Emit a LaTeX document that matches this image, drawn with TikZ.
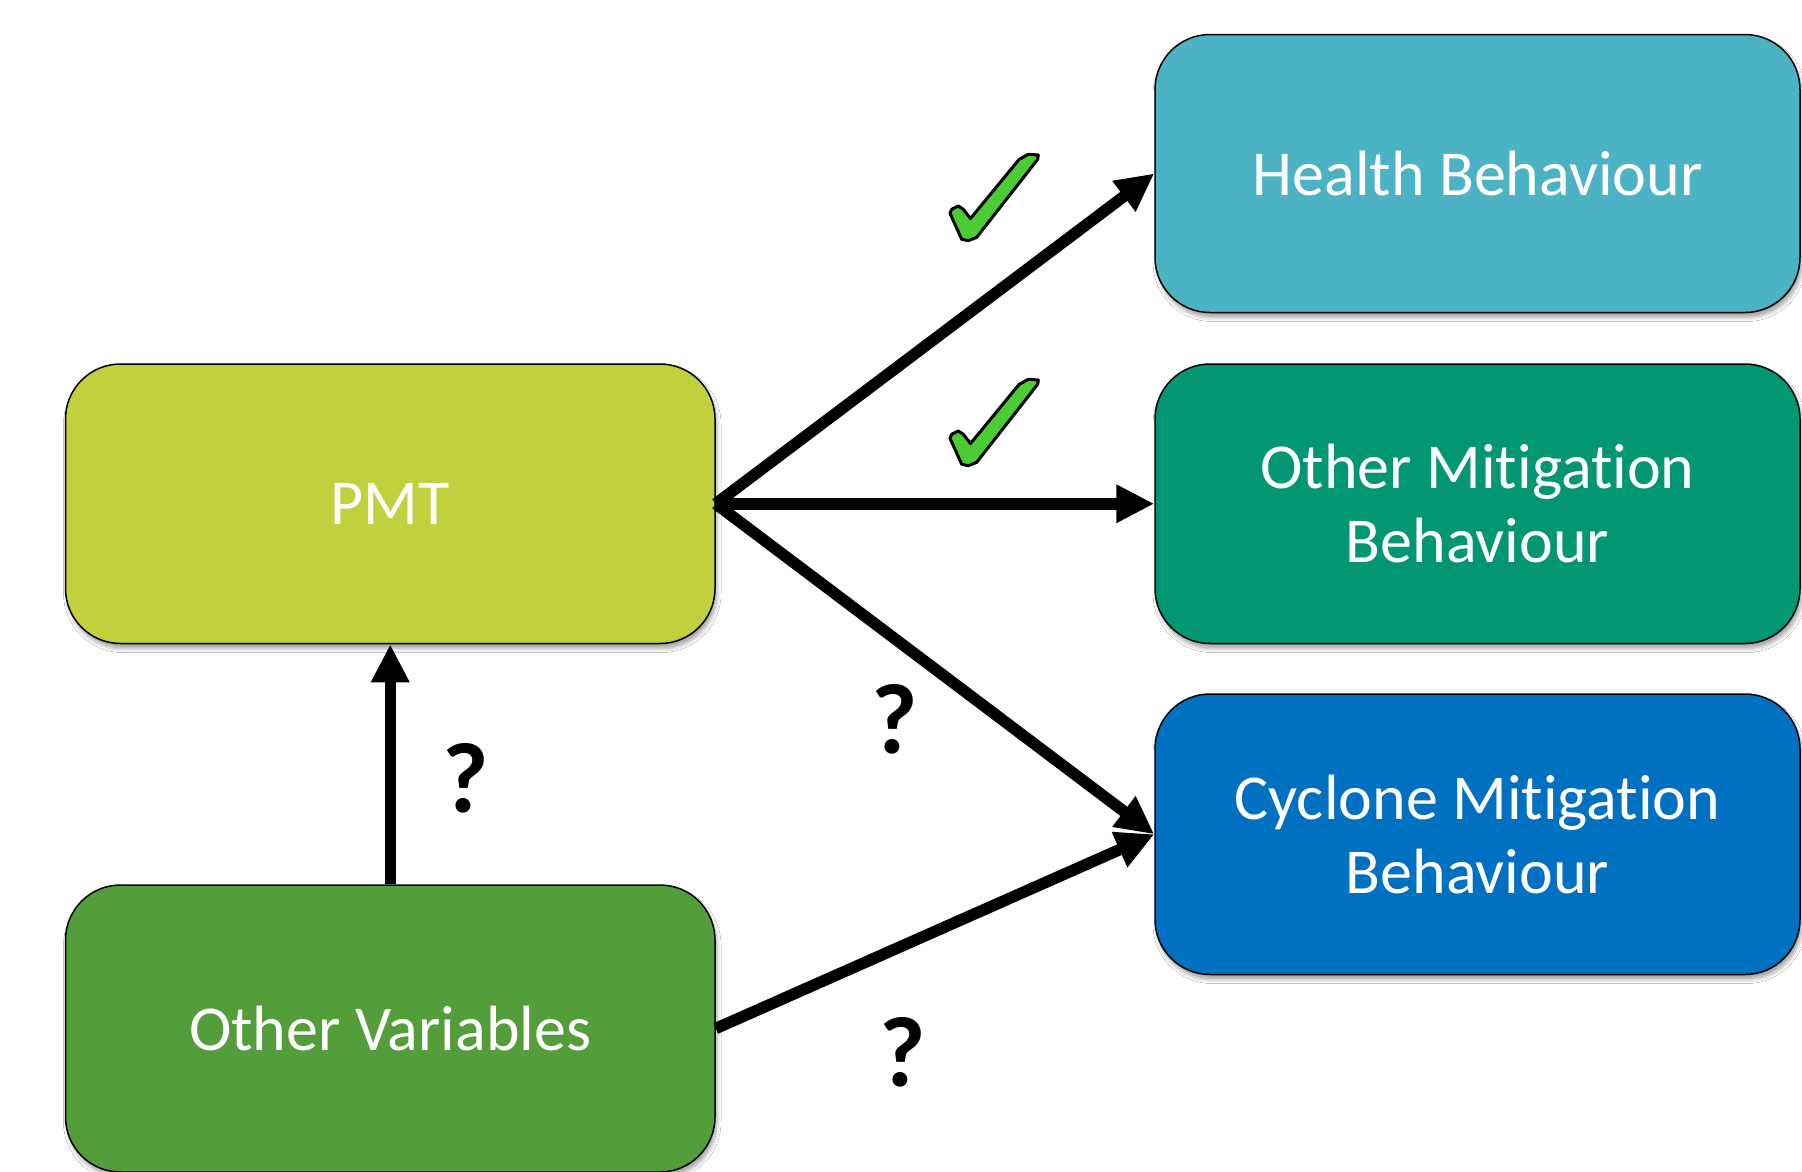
\documentclass[tikz,border=0pt]{standalone}
\usepackage{fontspec}
\setmainfont{Carlito}[Ligatures=NoCommon]
\usetikzlibrary{arrows.meta,shadows.blur}
\definecolor{healthc}{RGB}{75,179,196}
\definecolor{othmitc}{RGB}{3,150,114}
\definecolor{cyclc}{RGB}{0,112,192}
\definecolor{pmtc}{RGB}{193,208,61}
\definecolor{ovc}{RGB}{83,158,58}
\definecolor{tickc}{RGB}{76,204,52}
\tikzset{
  box/.style={draw=black,line width=1.5pt,rounded corners=55pt,
    minimum width=649.5pt,minimum height=279.5pt,inner sep=0pt,
    text=white,font=\fontsize{64}{74}\selectfont,align=center,
    blur shadow={shadow xshift=2pt,shadow yshift=-5pt,shadow blur radius=4pt,shadow opacity=35}},
  arr/.style={line width=11.5pt,-{Triangle[length=38pt,width=36pt]}},
  qm/.style={font=\bfseries\fontsize{100}{100}\selectfont,inner sep=0pt},
  pics/checkmk/.style={code={
    \draw[fill=tickc,line width=3pt,line join=round]
      (89,29.5) -- (98.3,24.3) -- (108.3,25) -- (107.7,29.3) -- (46.7,107.3)
      -- (38.3,110.7) -- (31.7,109.3) -- (20,83.3) -- (21.7,79.3) -- (28.3,76)
      -- (33.3,79.3) -- (40.5,88.5) -- cycle;}}
}
\begin{document}
\begin{tikzpicture}[x=1pt,y=-1pt]
\useasboundingbox (0,0) rectangle (1802,1171);
\clip (0,0) rectangle (1802,1171);
\fill[white] (0,0) rectangle (1802,1171);
% nodes
\node[box,fill=pmtc] (pmt) at (390.25,503.75) {PMT};
\node[box,fill=ovc,minimum height=287pt] (ov) at (390.25,1028.5) {Other Variables};
\node[box,fill=healthc,minimum width=645pt,minimum height=278pt] (health) at (1477.5,173.5) {Health Behaviour};
\node[box,fill=othmitc,minimum width=645pt] (othmit) at (1477.5,503.75) {Other Mitigation\\Behaviour};
\node[box,fill=cyclc,minimum width=645pt,minimum height=280.5pt] (cyc) at (1477.5,834.25) {Cyclone Mitigation\\Behaviour};
% connectors
\draw[arr] (pmt.east) -- (health.west);
\draw[arr] (pmt.east) -- (othmit.west);
\draw[arr] (pmt.east) -- (cyc.west);
\draw[arr] (ov.east) -- (cyc.west);
\draw[arr] (ov.north) -- (pmt.south);
% labels
\pic at (930,130) {checkmk};
\pic at (930,355) {checkmk};
\node[qm] (q1) at (466,778) {?};
\node[qm] (q2) at (895,719) {?};
\node[qm] (q3) at (903,1052) {?};
\end{tikzpicture}
\end{document}
